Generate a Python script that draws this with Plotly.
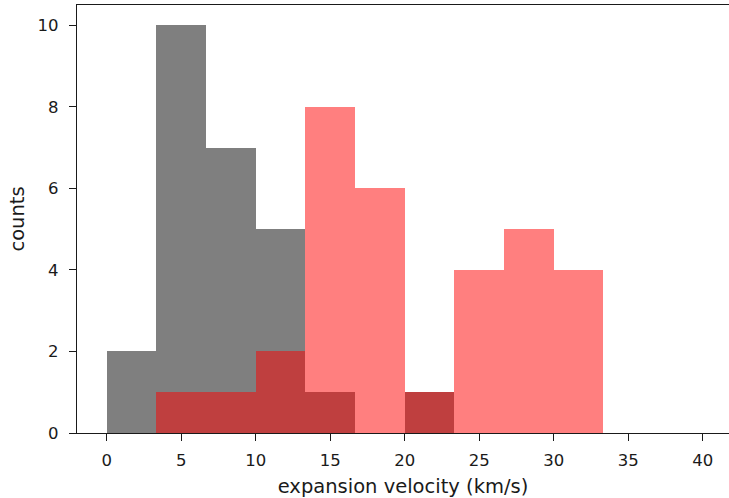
import numpy as np
import plotly.graph_objects as go

# Histogram bins (km/s): 12 equal bins from 0 to 40
bin_edges = np.linspace(0, 40, 13)

# Counts per bin for the two samples
gray_counts = [2, 10, 7, 5, 1, 0, 1, 0, 0, 0, 0, 0]
red_counts = [0, 1, 1, 2, 8, 6, 1, 4, 5, 4, 0, 0]

y_ticks = [0, 2, 4, 6, 8, 10]
x_ticks = [0, 5, 10, 15, 20, 25, 30, 35, 40]

centers = (bin_edges[:-1] + bin_edges[1:]) / 2
widths = np.diff(bin_edges)

fig = go.Figure()
fig.add_trace(go.Bar(
    x=centers, y=gray_counts, width=widths,
    marker=dict(color="rgba(0,0,0,0.5)", line=dict(width=0)),
    showlegend=False,
))
fig.add_trace(go.Bar(
    x=centers, y=red_counts, width=widths,
    marker=dict(color="rgba(255,0,0,0.5)", line=dict(width=0)),
    showlegend=False,
))

ink = "#1a1a1a"
tick_font = dict(family="DejaVu Sans", size=16.5, color=ink)
label_font = dict(family="DejaVu Sans", size=19.5, color=ink)

fig.update_layout(
    width=729, height=498,
    margin=dict(l=77, r=0, t=5, b=65),
    barmode="overlay", bargap=0,
    plot_bgcolor="white", paper_bgcolor="white",
    font=tick_font,
    xaxis=dict(
        range=[-2, 41.77],
        tickvals=x_ticks, ticktext=[str(v) for v in x_ticks],
        tickfont=tick_font,
        ticks="outside", ticklen=7, tickwidth=1.2, tickcolor=ink,
        ticklabelstandoff=5,
        showline=True, linecolor=ink, linewidth=1.2, mirror=True,
        showgrid=False, zeroline=False,
        title=dict(text="expansion velocity (km/s)", font=label_font, standoff=10),
    ),
    yaxis=dict(
        range=[0, 10.5],
        tickvals=y_ticks, ticktext=[str(v) for v in y_ticks],
        tickfont=tick_font,
        ticks="outside", ticklen=7, tickwidth=1.2, tickcolor=ink,
        ticklabelstandoff=7,
        showline=True, linecolor=ink, linewidth=1.2, mirror=False,
        showgrid=False, zeroline=False,
        title=dict(text="counts", font=label_font, standoff=7),
    ),
)

fig.write_html("out.html")
